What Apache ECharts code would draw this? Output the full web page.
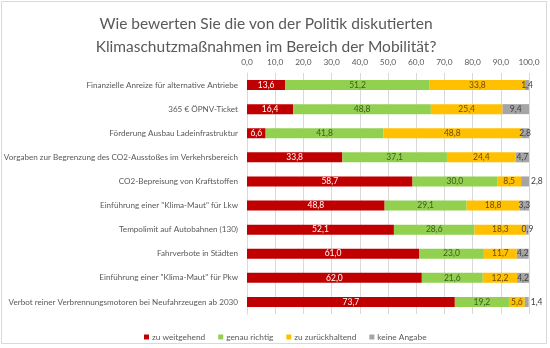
<!DOCTYPE html>
<html><head><meta charset="utf-8">
<script src="https://cdn.jsdelivr.net/npm/echarts@6/dist/echarts.min.js"></script>
<style>html,body{margin:0;padding:0;background:#fff}#c{width:550px;height:348px}</style>
</head><body><div id="c"></div>
<script>
const categories = [
  "Finanzielle Anreize für alternative Antriebe",
  "365 € ÖPNV-Ticket",
  "Förderung Ausbau Ladeinfrastruktur",
  "Vorgaben zur Begrenzung des CO2-Ausstoßes im Verkehrsbereich",
  "CO2-Bepreisung von Kraftstoffen",
  "Einführung einer \"Klima-Maut\" für Lkw",
  "Tempolimit auf Autobahnen (130)",
  "Fahrverbote in Städten",
  "Einführung einer \"Klima-Maut\" für Pkw",
  "Verbot reiner Verbrennungsmotoren bei Neufahrzeugen ab 2030"
];
const zuWeitgehend   = [13.6, 16.4, 6.6, 33.8, 58.7, 48.8, 52.1, 61.0, 62.0, 73.7];
const genauRichtig   = [51.2, 48.8, 41.8, 37.1, 30.0, 29.1, 28.6, 23.0, 21.6, 19.2];
const zuZurueck      = [33.8, 25.4, 48.8, 24.4, 8.5, 18.8, 18.3, 11.7, 12.2, 5.6];
const keineAngabe    = [1.4, 9.4, 2.8, 4.7, 2.8, 3.3, 0.9, 4.2, 4.2, 1.4];
const seriesNames = ["zu weitgehend", "genau richtig", "zu zurückhaltend", "keine Angabe"];
const titleLines = ["Wie bewerten Sie die von der Politik diskutierten", "Klimaschutzmaßnahmen im Bereich der Mobilität?"];
// rows whose "keine Angabe" label sits outside, right of the bar
const outsideLabelRows = [4, 9];

const font = "Lato, 'Open Sans', sans-serif";
const colors = ["#C00000", "#92D050", "#FFC000", "#A5A5A5"];
const labelColors = ["#ffffff", "#3d5a1f", "#6b4e00", "#404040"];
const fmt = v => v.toFixed(1).replace('.', ',');
const data = [zuWeitgehend, genauRichtig, zuZurueck, keineAngabe];

const chart = echarts.init(document.getElementById('c'));
chart.setOption({
  animation: false,
  graphic: [{
    type: 'rect', shape: { x: 1.5, y: 1.5, width: 545, height: 342 },
    style: { fill: 'none', stroke: '#d9d9d9', lineWidth: 1 }, silent: true
  }],
  title: {
    text: titleLines.join('\n'),
    left: 261, textAlign: 'center', top: 7,
    textStyle: { fontFamily: font, fontSize: 15.5, fontWeight: 'normal', color: '#595959', lineHeight: 23 }
  },
  legend: {
    top: 328, left: 139, itemWidth: 5, itemHeight: 5, itemGap: 13,
    icon: 'rect',
    textStyle: { fontFamily: font, fontSize: 8.3, color: '#595959', padding: [0, 0, 0, -2] },
    data: seriesNames
  },
  grid: { left: 247, right: 21, top: 73, bottom: 34, containLabel: false, outerBoundsMode: 'none' },
  xAxis: {
    type: 'value', position: 'top', min: 0, max: 100, interval: 10,
    axisLabel: { formatter: v => fmt(v), fontFamily: font, fontSize: 8.3, color: '#595959', margin: 7 },
    axisLine: { show: false }, axisTick: { show: false },
    splitLine: { lineStyle: { color: '#d9d9d9', width: 1 } }
  },
  yAxis: {
    type: 'category', inverse: true, data: categories,
    axisLabel: { fontFamily: font, fontSize: 8.1, color: '#595959', margin: 9 },
    axisLine: { show: true, lineStyle: { color: '#d9d9d9' } }, axisTick: { show: false }
  },
  series: seriesNames.map((n, i) => ({
    name: n, type: 'bar', stack: 'all', barWidth: 10,
    itemStyle: { color: colors[i] },
    label: {
      show: true, position: 'inside', formatter: p => fmt(p.value),
      fontFamily: font, fontSize: 8.5, color: labelColors[i]
    },
    data: data[i].map((v, j) => (i === 3 && outsideLabelRows.includes(j))
      ? { value: v, label: { position: 'right', distance: 2 } } : v)
  }))
});
</script></body></html>
